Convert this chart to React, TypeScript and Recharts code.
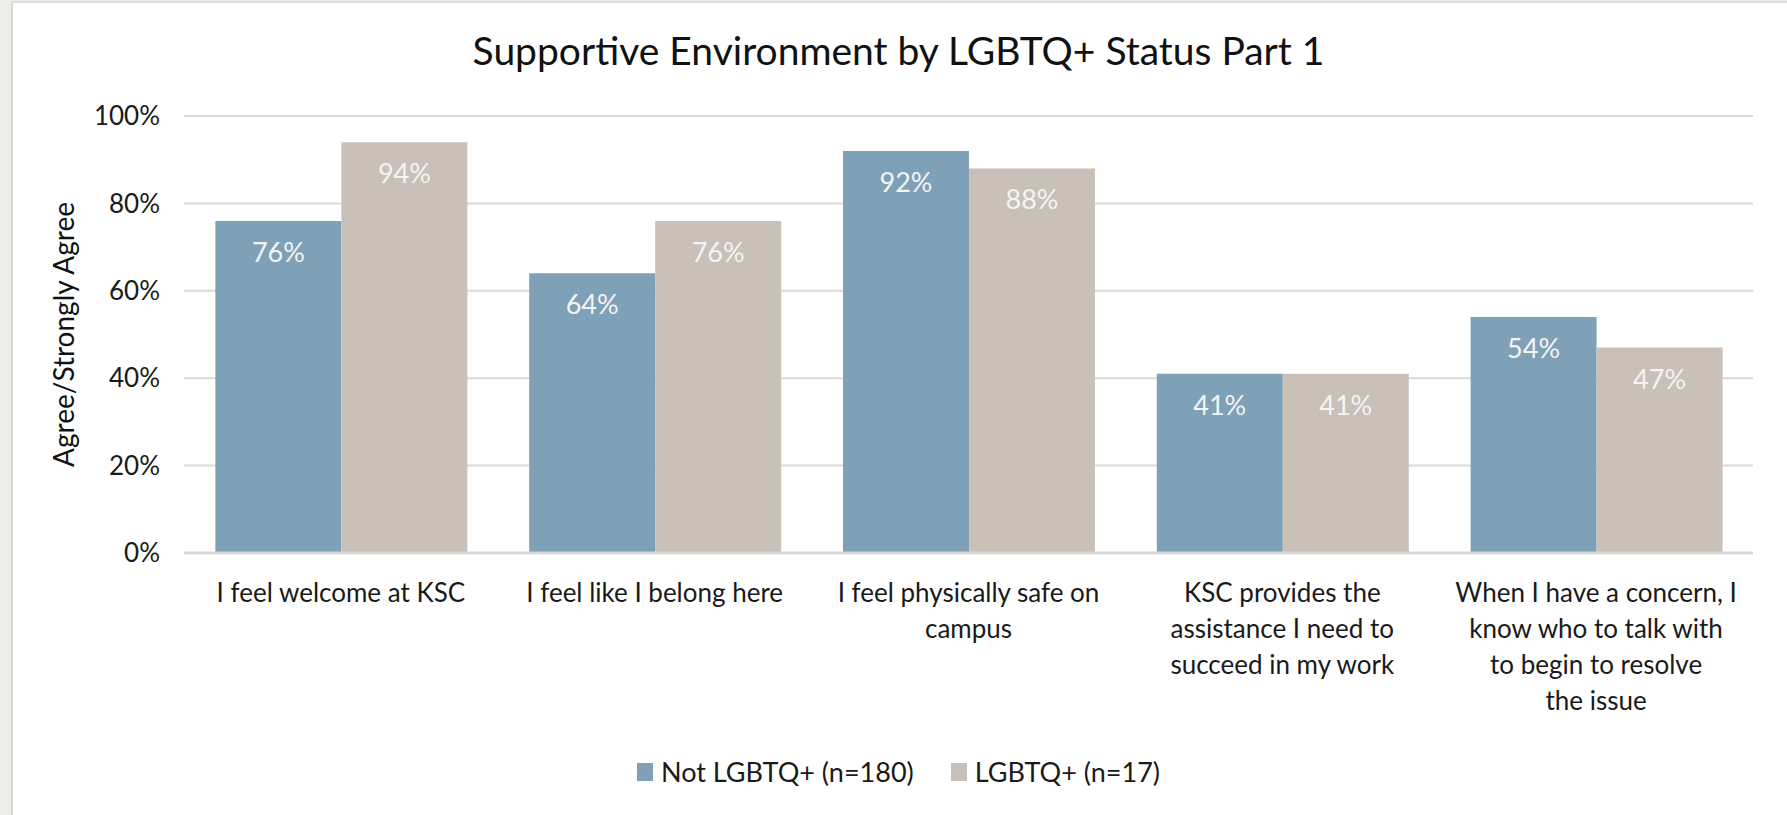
import { BarChart, Bar, XAxis, YAxis, CartesianGrid, LabelList, Label } from 'recharts';

const categoryLines = [
    ['I feel welcome at KSC'],
    ['I feel like I belong here'],
    ['I feel physically safe on', 'campus'],
    ['KSC provides the', 'assistance I need to', 'succeed in my work'],
    ['When I have a concern, I', 'know who to talk with', 'to begin to resolve', 'the issue'],
];
const categories = categoryLines.map((l) => l.join(' '));
const notLgbtq = [76, 64, 92, 41, 54];
const lgbtq = [94, 76, 88, 41, 47];
const yTicks = [0, 20, 40, 60, 80, 100];
const seriesNames = ['Not LGBTQ+ (n=180)', 'LGBTQ+ (n=17)'];

const BLUE = '#7fa1b7';
const BEIGE = '#c9c0b7';
const FONT = 'Lato, "Noto Sans", sans-serif';

const data = categories.map((c, i) => ({ name: c, a: notLgbtq[i], b: lgbtq[i] }));

const CategoryTick = (props: any) => {
    const { x, y, index } = props;
    const lines = categoryLines[index] || [];
    return (
        <g>
            {lines.map((ln, i) => (
                <text key={i} x={x} y={y + 49 + i * 36} textAnchor="middle" fill="#1a1a1a" fontSize={26} fontFamily={FONT}>
                    {ln}
                </text>
            ))}
        </g>
    );
};

const ValueLabel = (props: any) => {
    const { x, y, width, value } = props;
    return (
        <text x={x + width / 2} y={y + 41} textAnchor="middle" fill="#f4f4f4" fontSize={27} fontFamily={FONT}>
            {value}%
        </text>
    );
};

export default function App() {
    return (
        <div style={{ position: 'absolute', left: 0, top: 0, width: 1787, height: 815, background: '#ecece8', overflow: 'hidden' }}>
            <div style={{ position: 'absolute', left: 11, top: 1, width: 1774, height: 820, background: '#fff', borderLeft: '2px solid #d8d8d6', borderTop: '2px solid #dcdcdc', borderRight: '1px solid #d8d8d6' }} />
            <div style={{ position: 'absolute', left: 11, width: 1775, top: 27, textAlign: 'center', fontFamily: FONT, fontSize: 39, color: '#111' }}>
                Supportive Environment by LGBTQ+ Status Part 1
            </div>
            <div style={{ position: 'absolute', left: 0, top: 0 }}>
                <BarChart width={1787} height={815} data={data} margin={{ top: 116, right: 34, bottom: 62, left: 11 }} barCategoryGap="10%" barGap={0}>
                    <CartesianGrid vertical={false} stroke="#d9d9d9" strokeWidth={2} />
                    <XAxis dataKey="name" height={200} tick={<CategoryTick />} tickSize={0} tickMargin={0} axisLine={{ stroke: '#d9d9d9', strokeWidth: 3 }} tickLine={false} interval={0} />
                    <YAxis width={173} domain={[0, 100]} ticks={yTicks} tickFormatter={(v: number) => `${v}%`} axisLine={false} tickLine={false} tickSize={6} tickMargin={18}
                        tick={{ fill: '#1a1a1a', fontSize: 26, fontFamily: FONT }}>
                        <Label content={(p: any) => {
                            const vb = p.viewBox;
                            const cx = vb.x + 52;
                            const cy = vb.y + vb.height / 2;
                            return (
                                <text x={cx} y={cy} transform={`rotate(-90 ${cx} ${cy})`} textAnchor="middle" dominantBaseline="central" fill="#111" fontSize={28} fontFamily={FONT}>
                                    Agree/Strongly Agree
                                </text>
                            );
                        }} />
                    </YAxis>
                    <Bar dataKey="a" name={seriesNames[0]} fill={BLUE} isAnimationActive={false}>
                        <LabelList dataKey="a" content={<ValueLabel />} />
                    </Bar>
                    <Bar dataKey="b" name={seriesNames[1]} fill={BEIGE} isAnimationActive={false}>
                        <LabelList dataKey="b" content={<ValueLabel />} />
                    </Bar>
                </BarChart>
            </div>
            <div style={{ position: 'absolute', left: 11, width: 1775, top: 755, display: 'flex', justifyContent: 'center', alignItems: 'center', fontFamily: FONT, fontSize: 27, color: '#1a1a1a' }}>
                {seriesNames.map((n, i) => (
                    <div key={n} style={{ display: 'flex', alignItems: 'center', marginLeft: i ? 37 : 0 }}>
                        <span style={{ width: 16, height: 18, background: i ? BEIGE : BLUE, display: 'inline-block', marginRight: 8 }} />
                        <span>{n}</span>
                    </div>
                ))}
            </div>
        </div>
    );
}
